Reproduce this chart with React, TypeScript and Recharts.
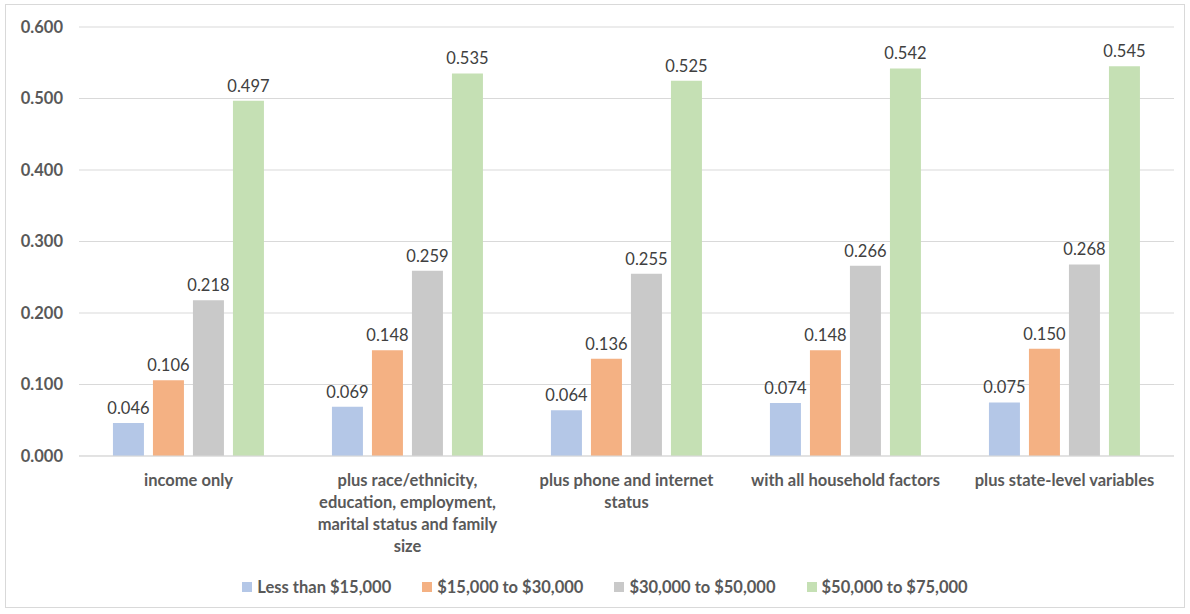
import { BarChart, Bar, XAxis, YAxis, CartesianGrid, Legend, LabelList } from 'recharts';

// Model stages (x categories) and their wrapped tick lines
const categories = [
  'income only',
  'plus race/ethnicity, education, employment, marital status and family size',
  'plus phone and internet status',
  'with all household factors',
  'plus state-level variables',
];
const categoryLines = [
  ['income only'],
  ['plus race/ethnicity,', 'education, employment,', 'marital status and family', 'size'],
  ['plus phone and internet', 'status'],
  ['with all household factors'],
  ['plus state-level variables'],
];

// Series values per income bracket
const seriesNames = ['Less than $15,000', '$15,000 to $30,000', '$30,000 to $50,000', '$50,000 to $75,000'];
const lessThan15k = [0.046, 0.069, 0.064, 0.074, 0.075];
const from15to30k = [0.106, 0.148, 0.136, 0.148, 0.15];
const from30to50k = [0.218, 0.259, 0.255, 0.266, 0.268];
const from50to75k = [0.497, 0.535, 0.525, 0.542, 0.545];
const yTicks = [0, 0.1, 0.2, 0.3, 0.4, 0.5, 0.6];

const colors = ['#b4c7e7', '#f4b183', '#c9c9c9', '#c5e0b4'];
const keys = ['s0', 's1', 's2', 's3'];
const FONT = 'Lato, "Open Sans", sans-serif';

const data = categories.map((name, i) => ({
  name,
  s0: lessThan15k[i],
  s1: from15to30k[i],
  s2: from30to50k[i],
  s3: from50to75k[i],
}));

const CategoryTick = ({ x, y, payload }: any) => {
  const lines = categoryLines[payload.index] || [payload.value];
  return (
    <text x={x} y={y} textAnchor="middle" fill="#595959" fontSize={16.5} fontWeight={700} fontFamily={FONT}>
      {lines.map((ln, i) => (
        <tspan key={i} x={x} dy={22}>
          {ln}
        </tspan>
      ))}
    </text>
  );
};

const LegendContent = () => (
  <div
    style={{
      display: 'flex',
      justifyContent: 'center',
      gap: 31,
      height: 36,
      paddingTop: 11,
      paddingLeft: 30,
      boxSizing: 'border-box',
      fontFamily: FONT,
      fontSize: 16.5,
      fontWeight: 700,
      color: '#595959',
    }}
  >
    {seriesNames.map((n, i) => (
      <div key={n} style={{ display: 'flex', alignItems: 'center', gap: 5 }}>
        <span style={{ width: 10, height: 10, background: colors[i], display: 'inline-block' }} />
        <span>{n}</span>
      </div>
    ))}
  </div>
);

const App = () => {
  return (
    <div style={{ position: 'absolute', left: 0, top: 0, width: 1190, height: 614, background: '#fff' }}>
      <div
        style={{
          position: 'absolute',
          left: 5,
          top: 4,
          width: 1180,
          height: 604,
          border: '1px solid #d9d9d9',
          boxSizing: 'border-box',
        }}
      >
        <BarChart
          width={1178}
          height={602}
          data={data}
          margin={{ top: 22, right: 10, left: 0, bottom: 8 }}
          barCategoryGap="15.5%"
          barGap={9}
        >
          <CartesianGrid vertical={false} stroke="#d9d9d9" />
          <XAxis
            dataKey="name"
            height={107}
            tick={<CategoryTick />}
            tickLine={false}
            axisLine={{ stroke: '#d9d9d9' }}
            interval={0}
          />
          <YAxis
            width={73}
            domain={[0, 0.6]}
            ticks={yTicks}
            tickFormatter={(v: number) => v.toFixed(3)}
            tick={{ fill: '#595959', fontSize: 16.5, fontWeight: 700, fontFamily: FONT }}
            axisLine={false}
            tickLine={false}
            tickSize={0}
            tickMargin={16}
          />
          <Legend verticalAlign="bottom" content={<LegendContent />} />
          {keys.map((k, i) => (
            <Bar key={k} dataKey={k} name={seriesNames[i]} fill={colors[i]} isAnimationActive={false}>
              <LabelList
                dataKey={k}
                position="top"
                offset={9}
                formatter={(v: any) => Number(v).toFixed(3)}
                style={{ fill: '#404040', fontSize: 16.5, fontFamily: FONT }}
              />
            </Bar>
          ))}
        </BarChart>
      </div>
    </div>
  );
};

export default App;
